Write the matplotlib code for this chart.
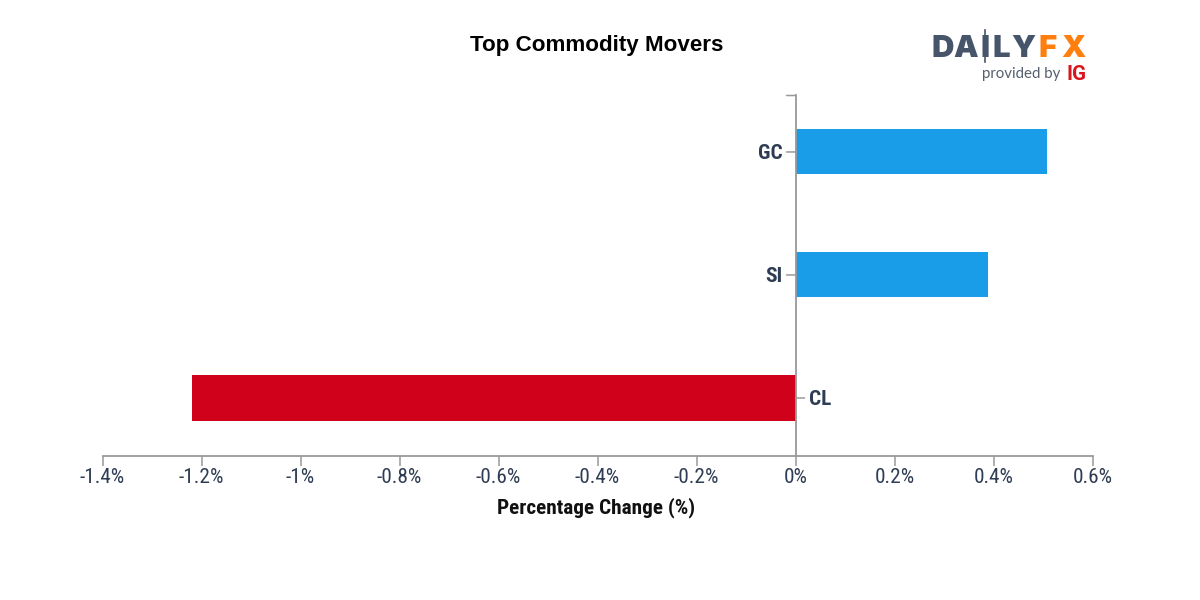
"""Top commodity movers, horizontal bars with a zero-centred category axis."""

import matplotlib

matplotlib.use("Agg")
import matplotlib.pyplot as plt  # noqa: E402
from matplotlib.lines import Line2D  # noqa: E402

symbols = ["CL", "SI", "GC"]
changes = [-1.22, 0.388, 0.509]
x_ticks = [-1.4, -1.2, -1.0, -0.8, -0.6, -0.4, -0.2, 0, 0.2, 0.4, 0.6]
x_labels = ["-1.4%", "-1.2%", "-1%", "-0.8%", "-0.6%", "-0.4%", "-0.2%", "0%", "0.2%", "0.4%", "0.6%"]

UP = "#199de8"
DOWN = "#d0021b"
INK = "#2f3d54"
AXIS = "#999999"
NARROW = "Roboto Condensed"
W, H = 1200, 600


def px(size):
    return size * 72 / 100


fig = plt.figure(figsize=(W / 100, H / 100), dpi=100)
ax = fig.add_axes([102.5 / W, 1 - 455.5 / H, 990 / W, 360 / H])
colors = [UP if c > 0 else DOWN for c in changes]
ax.barh(range(len(symbols)), changes, height=0.366, color=colors, zorder=2)
ax.set_xlim(-1.4, 0.6)
ax.set_ylim(-0.4675, 2.459)

for side in ["top", "right"]:
    ax.spines[side].set_visible(False)
ax.spines["left"].set_position(("data", 0))
ax.spines["left"].set_color(AXIS)
ax.spines["bottom"].set_color(AXIS)
ax.spines["left"].set_linewidth(1.3)
ax.spines["bottom"].set_linewidth(1.3)
ax.spines["left"].set_zorder(3)

ax.set_xticks(x_ticks)
ax.set_xticklabels(x_labels, fontsize=px(21.3), color=INK, family=NARROW)
ax.tick_params(axis="x", length=7, width=1.1, color=AXIS, pad=2.2)
ax.set_yticks([])

# end tick at the top of the category axis
ax.annotate("", xy=(0, 2.459), xytext=(-9, 0), textcoords="offset pixels",
            arrowprops=dict(arrowstyle="-", color=AXIS, lw=1.1, shrinkA=0, shrinkB=0))

# category ticks sit on the side opposite the bar
for i, (name, value) in enumerate(zip(symbols, changes)):
    sign = -1 if value > 0 else 1
    ax.annotate("", xy=(0, i), xytext=(sign * 9, 0), textcoords="offset pixels",
                arrowprops=dict(arrowstyle="-", color=AXIS, lw=1.1, shrinkA=0, shrinkB=0))
    ax.annotate(name, xy=(0, i), xytext=(sign * 13, 0), textcoords="offset pixels",
                ha="right" if value > 0 else "left", va="center_baseline",
                fontsize=px(21.3), fontweight="bold", color=INK, family=NARROW)

fig.text(596.5 / W, 1 - 507.5 / H, "Percentage Change (%)", ha="center", va="center",
         fontsize=px(21.3), fontweight="bold", color="#111111", family=NARROW)
fig.text(597 / W, 1 - 46 / H, "Top Commodity Movers", ha="center", va="center",
         fontsize=px(22.4), fontweight="bold", color="black", family="Liberation Sans")

# logo, as text
for letter, x in zip("DAILY", [943, 966, 985, 1001, 1023]):
    fig.text(x / W, 1 - 46 / H, letter, ha="center", va="center_baseline", fontsize=px(31),
             fontweight="black", color="#46556a", family="Inter")
for letter, x in zip("FX", [1048, 1073]):
    fig.text(x / W, 1 - 46 / H, letter, ha="center", va="center_baseline", fontsize=px(31),
             fontweight="black", color="#ff7f0e", family="Inter")
fig.add_artist(Line2D([985 / W, 985 / W], [1 - 30 / H, 1 - 62 / H], color="#46556a", lw=1.2))
fig.text(982 / W, 1 - 72.5 / H, "provided by", ha="left", va="center_baseline", fontsize=px(15),
         color="#55606e", family="Lato")
fig.text(1066 / W, 1 - 73 / H, "IG", ha="left", va="center_baseline", fontsize=px(20.5),
         fontweight="bold", color="#d8141c", family="Roboto")

fig.savefig("out.png", dpi=100)
plt.close(fig)
